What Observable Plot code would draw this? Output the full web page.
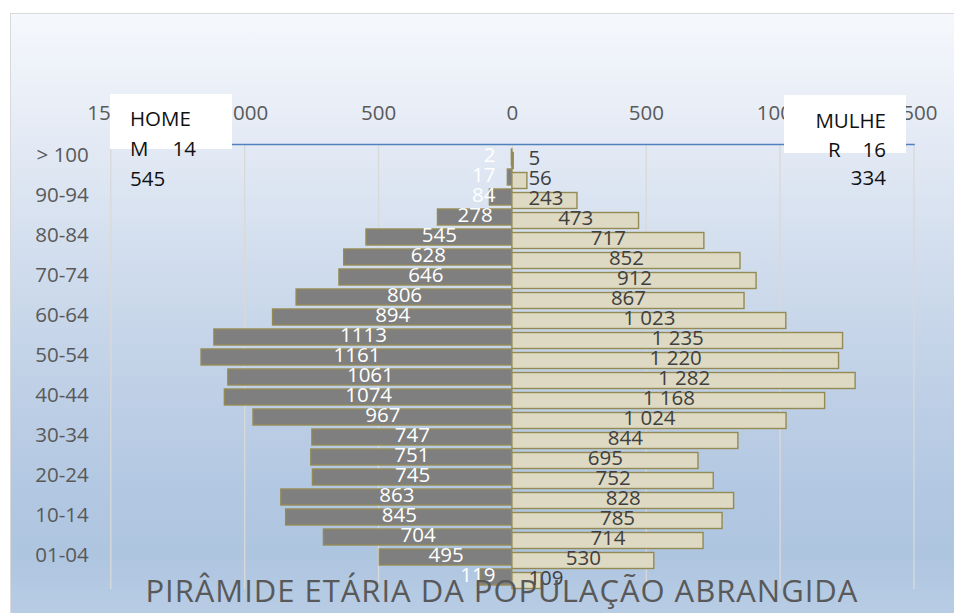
<!DOCTYPE html>
<html>
<head>
<meta charset="utf-8">
<script src="https://cdn.jsdelivr.net/npm/d3@7"></script>
<script src="https://cdn.jsdelivr.net/npm/@observablehq/plot@0.6"></script>
<style>
  html, body { margin: 0; padding: 0; background: #ffffff; }
  #wrap { position: relative; width: 954px; height: 613px; overflow: hidden; font-family: "Open Sans", sans-serif; }
  #bg { position: absolute; left: 10px; top: 13px; width: 960px; height: 620px;
        border: 1.5px solid #d9d9d9; box-sizing: border-box;
        background: linear-gradient(to bottom, #f5f8fc 0px, #e9eef7 90px, #d8e2f0 200px, #c6d5e9 320px, #b3c8e2 470px, #aec5e0 540px, #bccfe6 620px); }
  #chart { position: absolute; left: 0; top: 0; }
  .box { position: absolute; background: #ffffff; }
  .lg { position: absolute; font-size: 20.5px; line-height: 30px; color: #111; white-space: nowrap; }
</style>
</head>
<body>
<div id="wrap">
  <div id="bg"></div>
  <div id="chart"></div>
  <div class="box" style="left:110px;top:94px;width:122px;height:55px;"></div>
  <div class="box" style="left:784px;top:95px;width:122px;height:58px;"></div>
  <div id="legend"></div>
</div>
<script>
// ---- data (top row first) ----
const ages = ["> 100","95-99","90-94","85-89","80-84","75-79","70-74","65-69","60-64","55-59","50-54",
              "45-49","40-44","35-39","30-34","25-29","20-24","15-19","10-14","05-09","01-04","< 1"];
const male   = [2,17,84,278,545,628,646,806,894,1113,1161,1061,1074,967,747,751,745,863,845,704,495,119];
const female = [5,56,243,473,717,852,912,867,1023,1235,1220,1282,1168,1024,844,695,752,828,785,714,530,109];
const xTicks = [-1500,-1000,-500,0,500,1000,1500];
const yTicks = ages.filter((_, i) => i % 2 === 0);
const title = "PIRÂMIDE ETÁRIA DA POPULAÇÃO ABRANGIDA";
const maleName = "HOMEM", femaleName = "MULHER";

const data = ages.map((age, i) => ({age, m: male[i], f: female[i]}));
const fmtSpace = v => v >= 1000 ? `${Math.floor(v/1000)} ${String(v % 1000).padStart(3, "0")}` : String(v);

const FS = 20.5;
const plot = Plot.plot({
  width: 954, height: 613,
  marginTop: 144, marginBottom: 24, marginLeft: 110.3, marginRight: 40.5,
  style: {background: "transparent", fontFamily: "Open Sans, sans-serif", fontSize: FS + "px", color: "#595959"},
  x: {domain: [-1500, 1500]},
  y: {domain: ages, paddingInner: 0.2, paddingOuter: 0.11},
  marks: [
    Plot.gridX(xTicks, {stroke: "#d9d9d9", strokeOpacity: 1, strokeWidth: 1.3}),
    Plot.frame({anchor: "top", stroke: "#4f81bd", strokeWidth: 1.6}),
    Plot.axisX({anchor: "top", ticks: xTicks, tickFormat: d => String(Math.abs(d)), tickSize: 0, tickPadding: 25, label: null, fill: "#595959", fontSize: FS}),
    Plot.axisY({ticks: yTicks, tickSize: 0, tickPadding: 22, dy: -2, label: null, fill: "#595959", fontSize: FS}),
    Plot.barX(data, {x1: 0, x2: d => -d.m, y: "age", fill: "#7f7f7f", stroke: "#948a54", strokeWidth: 1.4}),
    Plot.barX(data, {x1: 0, x2: "f", y: "age", dy: 3.5, fill: "#ddd9c3", stroke: "#948a54", strokeWidth: 1.4}),
    // male labels
    Plot.text(data.filter(d => d.m >= 260), {x: d => -d.m / 2, y: "age", dy: -2, text: d => String(d.m), fill: "white", fontSize: FS}),
    Plot.text(data.filter(d => d.m < 260), {x: 0, dx: -17, textAnchor: "end", y: "age", dy: -2, text: d => String(d.m), fill: "white", fontSize: FS}),
    // female labels
    Plot.text(data.filter(d => d.f >= 260), {x: d => d.f / 2, y: "age", dy: 0.5, text: d => fmtSpace(d.f), fill: "#404040", fontSize: FS}),
    Plot.text(data.filter(d => d.f < 260), {x: 0, dx: 16, textAnchor: "start", y: "age", dy: 0.5, text: d => fmtSpace(d.f), fill: "#404040", fontSize: FS}),
    // title
    Plot.text([title], {frameAnchor: "bottom", dx: -11, dy: 3, lineAnchor: "middle", fontSize: 31, fill: "#595959", className: "ctitle"})
  ]
});
document.getElementById("chart").appendChild(plot);
// stretch title to the original's width
const tt = plot.querySelector(".ctitle text");
if (tt) { tt.setAttribute("textLength", "712"); tt.setAttribute("lengthAdjust", "spacing"); }

// legend boxes (wrapped text like the original)
const mTot = fmtSpace(d3.sum(male)).split(" ");
const fTot = fmtSpace(d3.sum(female)).split(" ");
const lg = document.getElementById("legend");
const items = [
  {t: maleName.slice(0, 4), s: "left:130px;top:103px;"},
  {t: maleName.slice(4), s: "left:130px;top:133px;"},
  {t: mTot[0], s: "right:" + (954 - 196) + "px;top:133px;"},
  {t: mTot[1], s: "left:130px;top:163px;"},
  {t: femaleName.slice(0, 5), s: "right:" + (954 - 886) + "px;top:105px;"},
  {t: femaleName.slice(5), s: "left:828px;top:134px;"},
  {t: fTot[0], s: "right:" + (954 - 886) + "px;top:134px;"},
  {t: fTot[1], s: "right:" + (954 - 886) + "px;top:162px;"}
];
for (const it of items) {
  const el = document.createElement("div");
  el.className = "lg";
  el.style.cssText = it.s;
  el.textContent = it.t;
  lg.appendChild(el);
}
</script>
</body>
</html>
